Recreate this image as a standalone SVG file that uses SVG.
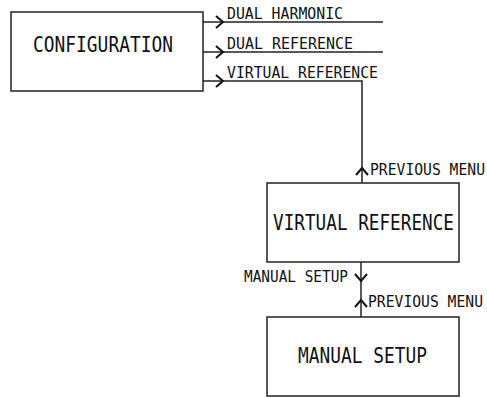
<svg xmlns="http://www.w3.org/2000/svg" width="487" height="398" viewBox="0 0 487 398">
<style>
.box{fill:#fff;stroke:#222;stroke-width:1.5}
.ln{fill:none;stroke:#222;stroke-width:1.5}
.hd{fill:none;stroke:#111;stroke-width:2}
.t{font-family:"DejaVu Sans Mono","Liberation Mono",monospace;fill:#111}
.big{font-size:21px}
.sm{font-size:15px}
</style>
<rect width="487" height="398" fill="#fff"/>
<g id="connectors">
<path class="ln" d="M203,22 H383"/>
<path class="hd" d="M216,16 L223,22 L216,28"/>
<path class="ln" d="M203,52 H383"/>
<path class="hd" d="M216,46 L223,52 L216,58"/>
<path class="ln" d="M203,81 H362 V183"/>
<path class="hd" d="M216,75 L223,81 L216,87"/>
<path class="hd" d="M356,175 L362,168 L368,175"/>
<path class="ln" d="M361,262 V317"/>
<path class="hd" d="M355,274 L361,281 L367,274"/>
<path class="hd" d="M355,307 L361,300 L367,307"/>
<text class="t sm" x="227" y="19" textLength="116" lengthAdjust="spacingAndGlyphs">DUAL HARMONIC</text>
<text class="t sm" x="227" y="49" textLength="126" lengthAdjust="spacingAndGlyphs">DUAL REFERENCE</text>
<text class="t sm" x="227" y="78" textLength="151" lengthAdjust="spacingAndGlyphs">VIRTUAL REFERENCE</text>
<text class="t sm" x="370" y="175" textLength="115" lengthAdjust="spacingAndGlyphs">PREVIOUS MENU</text>
<text class="t sm" x="244" y="282" textLength="104" lengthAdjust="spacingAndGlyphs">MANUAL SETUP</text>
<text class="t sm" x="368" y="307" textLength="115" lengthAdjust="spacingAndGlyphs">PREVIOUS MENU</text>
</g>
<g id="configuration">
<rect class="box" x="11" y="12" width="192" height="79"/>
<text class="t big" x="33" y="52" textLength="140" lengthAdjust="spacingAndGlyphs">CONFIGURATION</text>
</g>
<g id="virtual-reference">
<rect class="box" x="267" y="183" width="192" height="79"/>
<text class="t big" x="273" y="230" textLength="181" lengthAdjust="spacingAndGlyphs">VIRTUAL REFERENCE</text>
</g>
<g id="manual-setup">
<rect class="box" x="267" y="317" width="192" height="79"/>
<text class="t big" x="298" y="363" textLength="129" lengthAdjust="spacingAndGlyphs">MANUAL SETUP</text>
</g>
</svg>
